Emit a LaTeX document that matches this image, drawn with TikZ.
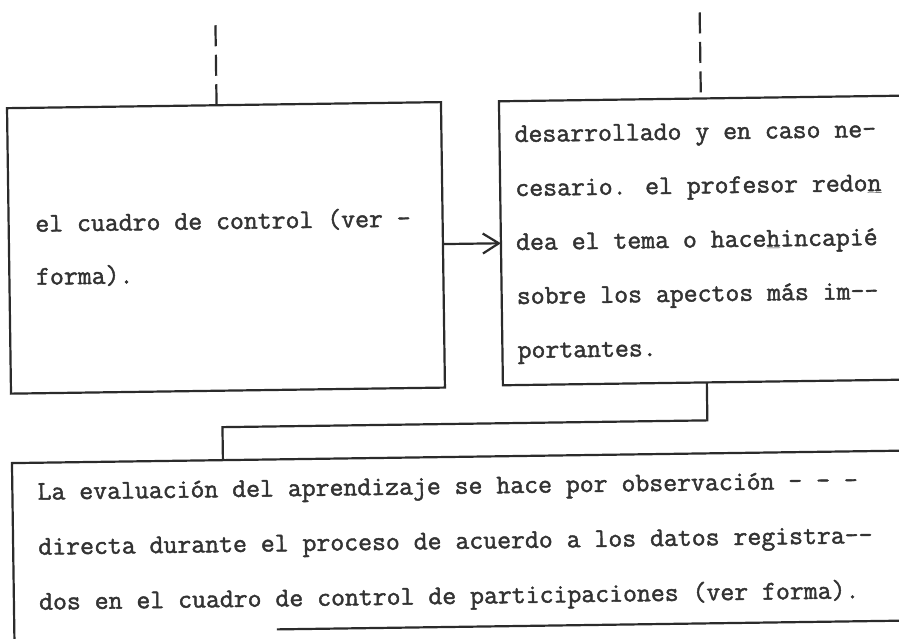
\documentclass[tikz,border=0pt]{standalone}
\usepackage{fontspec}
\newfontfamily\tw{Latin Modern Mono}[FakeBold=1.6]
\usetikzlibrary{arrows.meta}
\definecolor{ink}{HTML}{2B2B2B}
\definecolor{txt}{HTML}{333333}
\begin{document}
\begin{tikzpicture}[x=1pt,y=-1pt,
  box/.style={draw=ink, line width=2.2pt, rectangle, inner sep=0pt, outer sep=0pt},
  openbox/.style={rectangle, inner sep=0pt, outer sep=0pt},
  conn/.style={draw=ink, line width=2.2pt},
  dashconn/.style={conn, dash pattern=on 21pt off 8.5pt},
  txtline/.style={anchor=base west, inner sep=0pt, font=\tw\fontsize{27}{54}\selectfont, text=txt}]
\useasboundingbox (0,0) rectangle (899,639);
\fill[white] (0,0) rectangle (899,639);
\begin{scope}[rotate around={0.8:(450,320)}, transform shape]
  % boxes
  \node[box, minimum width=434pt, minimum height=285.5pt] (L) at (227,244.75) {};
  \node[box, minimum width=403pt, minimum height=284pt] (R) at (703.5,244) {};
  \node[openbox, minimum width=895pt, minimum height=170pt] (B) at (457.5,542) {};
  % bottom box outline: left edge runs off the page, bottom edge starts at bx
  \coordinate (bx) at (272.6,0);
  \coordinate (by) at (0,655);
  \draw[conn, line join=miter] (B.south west |- by) -- (B.north west) -- (B.north east)
        -- (B.south east) -- (B.south west -| bx);
  % dashed incoming lines
  \coordinate (dl) at (219.6,22);
  \coordinate (dr) at (704,16);
  \draw[dashconn] (dl) -- (L.north -| dl);
  \draw[dashconn] (dr) -- (R.north -| dr);
  % arrow
  \draw[conn, -{Straight Barb[length=16pt,width=20pt]}] (L.east |- R.west) -- (R.west);
  % connector R -> B
  \coordinate (c1) at (706,424);
  \coordinate (c2) at (221,424);
  \draw[conn, line join=miter] (R.south -| c1) -- (c1) -- (c2) -- (B.north -| c2);
  % texts
  \node[txtline] (l1) at (36.5,226) {el cuadro de control (ver -};
  \node[txtline] (l2) at (36.5,279) {forma).};
  \node[txtline] (r1) at (517,143) {desarrollado y en caso ne-};
  \node[txtline] (r2) at (517,197) {cesario. el profesor redo\underline{n}};
  \node[txtline] (r3) at (517,251) {dea el tema o hace\underline{h}incapié};
  \node[txtline] (r4) at (517,305) {sobre los apectos más im-{}-};
  \node[txtline] (r5) at (517,359) {portantes.};
  \node[txtline] (b1) at (35,494) {La evaluación del aprendizaje se hace por observación - - -};
  \node[txtline] (b2) at (35,549) {directa durante el proceso de acuerdo a los datos registra-{}-};
  \node[txtline] (b3) at (35,604) {dos en el cuadro de control de participaciones (ver forma).};
\end{scope}
\end{tikzpicture}
\end{document}
